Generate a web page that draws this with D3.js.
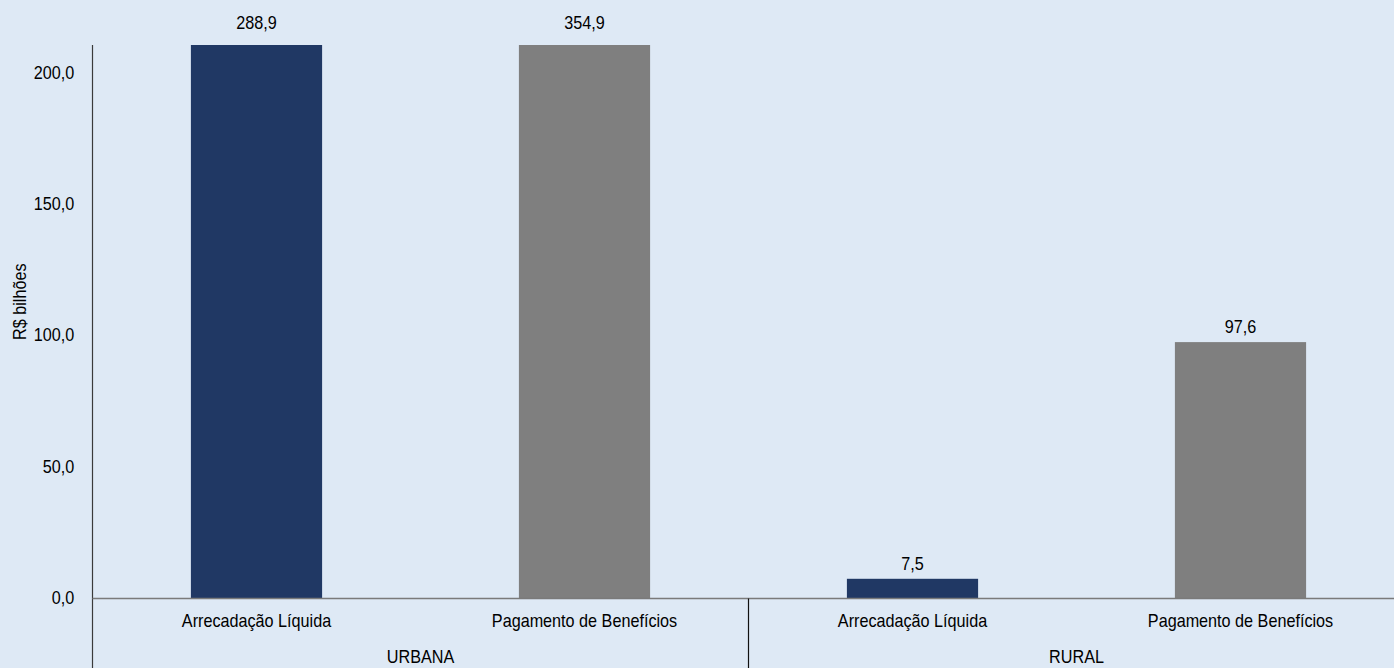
<!DOCTYPE html>
<html><head><meta charset="utf-8">
<script src="https://cdn.jsdelivr.net/npm/d3@7"></script>
<style>
html,body{margin:0;padding:0;background:#dee9f5;}
text{font-family:"Liberation Sans",Arial,sans-serif;fill:#000;}
</style></head>
<body><svg id="c" width="1394" height="668"></svg>
<script>
const groups = ["URBANA", "RURAL"];
const categories = ["Arrecadação Líquida", "Pagamento de Benefícios"];
const values = [288.9, 354.9, 7.5, 97.6];
const labels = ["288,9", "354,9", "7,5", "97,6"];
const colors = ["#203864", "#7f7f7f"];
const yTicks = [0, 50, 100, 150, 200];
const yTickLabels = ["0,0", "50,0", "100,0", "150,0", "200,0"];

(function () {
const svg = d3.select("#c");
const mL = 92.5, mR = 1404.5, mT = 45, mB = 598.5;
const FS = 18.5, SX = 0.875;
const items = [];
groups.forEach((g, gi) => categories.forEach((c, ci) => items.push({g, c, ci, key: gi + "|" + ci, v: values[gi * 2 + ci], lab: labels[gi * 2 + ci]})));

const x = d3.scaleBand().domain(items.map(d => d.key)).range([mL, mR]).paddingInner(0.6).paddingOuter(0.3);
const y = d3.scaleLinear().domain([0, 210.7]).range([mB, mT]);

const defs = svg.append("defs");
defs.append("clipPath").attr("id", "clip").append("rect").attr("x", mL).attr("y", mT).attr("width", mR - mL).attr("height", mB - mT);

svg.append("g").attr("clip-path", "url(#clip)").selectAll("rect").data(items).join("rect")
  .attr("x", d => x(d.key)).attr("width", x.bandwidth())
  .attr("y", d => y(d.v)).attr("height", d => y(0) - y(d.v))
  .attr("fill", d => colors[d.ci]);

function narrowText(sel, fx, fy) {
  sel.attr("transform", (d, i) => `translate(${fx(d, i)},${fy(d, i)}) scale(${SX},1)`)
     .attr("text-anchor", "middle").attr("font-size", FS);
}

svg.selectAll("text.val").data(items).join("text").attr("class", "val")
  .call(narrowText, d => x(d.key) + x.bandwidth() / 2, d => y(d.v) < mT ? mT - 16 : y(d.v) - 9)
  .text(d => d.lab);

const yAxis = d3.axisLeft(y).tickValues(yTicks).tickFormat((d, i) => yTickLabels[i]).tickSize(0).tickPadding(21);
const ga = svg.append("g").attr("transform", `translate(${mL},0)`).call(yAxis);
ga.select(".domain").remove();
ga.selectAll("text").attr("font-size", FS).attr("font-family", "Liberation Sans, Arial, sans-serif").attr("fill", "#000")
  .attr("dy", "0.28em").attr("transform", `scale(${SX},1)`);
svg.append("line").attr("x1", mL).attr("x2", mL).attr("y1", mT).attr("y2", 668).attr("stroke", "#3a3a3a").attr("stroke-width", 1.2);

svg.append("line").attr("x1", mL).attr("x2", 1394).attr("y1", mB).attr("y2", mB).attr("stroke", "#7a7a7a").attr("stroke-width", 1.5);
const mid = (x(items[1].key) + x.bandwidth() + x(items[2].key)) / 2;
svg.append("line").attr("x1", mid).attr("x2", mid).attr("y1", mB).attr("y2", 668).attr("stroke", "#111").attr("stroke-width", 1.2);

svg.selectAll("text.cat").data(items).join("text").attr("class", "cat")
  .call(narrowText, d => x(d.key) + x.bandwidth() / 2, () => 627)
  .text(d => d.c);

svg.selectAll("text.grp").data(groups).join("text").attr("class", "grp")
  .call(narrowText, (d, i) => (x(items[i * 2].key) + x(items[i * 2 + 1].key) + x.bandwidth()) / 2, () => 662.5)
  .text(d => d);

svg.append("text").attr("transform", `translate(26,${(mT + mB) / 2 - 20}) rotate(-90) scale(${SX},1)`)
  .attr("text-anchor", "middle").attr("font-size", FS).text("R$ bilhões");
})();
</script></body></html>
